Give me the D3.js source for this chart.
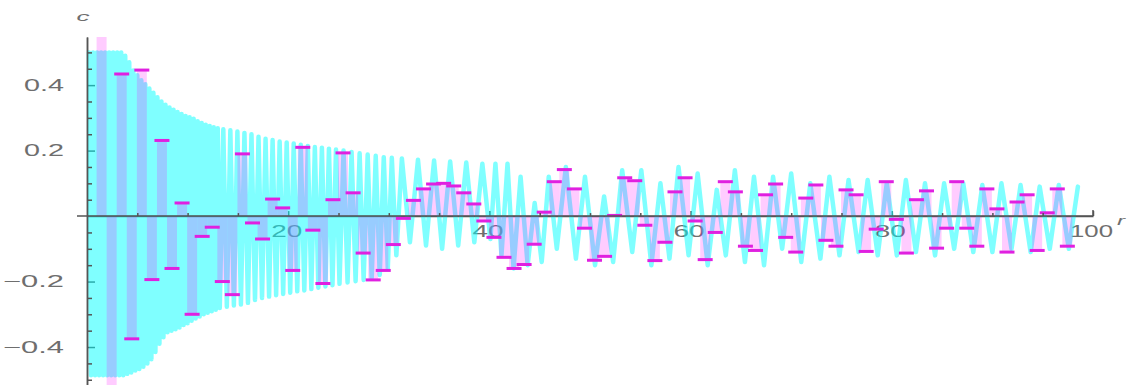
<!DOCTYPE html>
<html>
<head>
<meta charset="utf-8">
<script src="https://cdn.jsdelivr.net/npm/d3@7"></script>
<style>
  html, body { margin: 0; padding: 0; background: #fff; }
  svg { display: block; }
</style>
</head>
<body>
<svg id="chart" width="1127" height="385"></svg>
<script>
// ---- data -------------------------------------------------------------
const xTickValues = [20, 40, 60, 80, 100];
const xTickLabels = ["20", "40", "60", "80", "100"];
const yTickValues = [-0.4, -0.2, 0.2, 0.4];
const yTickLabels = ["\u22120.4", "\u22120.2", "0.2", "0.4"];

// discrete samples c(n), n = 1 … 97
const sampleIndex = d3.range(1, 98);
const sampleC = [
  0.80, -0.80, 0.434, -0.375, 0.446, -0.194, 0.231, -0.16, 0.04, -0.30,
  -0.062, -0.034, -0.20, -0.24, 0.19, -0.021, -0.07, 0.052, 0.025, -0.166,
  0.21, -0.043, -0.206, 0.05, 0.193, 0.071, -0.113, -0.195, -0.166, -0.087,
  -0.007, 0.048, 0.083, 0.098, 0.10, 0.092, 0.071, 0.037, -0.015, -0.065,
  -0.126, -0.16, -0.148, -0.086, 0.012, 0.105, 0.142, 0.083, -0.037, -0.135,
  -0.123, 0.002, 0.117, 0.108, -0.028, -0.136, -0.08, 0.074, 0.117, -0.015,
  -0.133, -0.05, 0.105, 0.074, -0.092, -0.105, 0.065, 0.098, -0.065, -0.11,
  0.055, 0.095, -0.074, -0.092, 0.08, 0.065, -0.108, -0.04, 0.105, -0.01,
  -0.113, 0.05, 0.077, -0.098, -0.037, 0.105, -0.037, -0.092, 0.083, 0.022,
  -0.11, 0.043, 0.065, -0.105, 0.01, 0.083, -0.092
];

// continuous curve c(r), vertices [r, c]
const curvePoints = [
  [0.2,0.5],[0.4,-0.486],[0.6,0.5],[0.8,-0.486],[1.0,0.5],[1.2,-0.486],[1.4,0.5],[1.6,-0.486],
  [1.8,0.5],[2.0,-0.486],[2.2,0.5],[2.4,-0.486],[2.6,0.5],[2.8,-0.486],[3.0,0.5],[3.2,-0.486],
  [3.4,0.5],[3.6,-0.486],[3.8,0.49],[4.0,-0.482],[4.2,0.47],[4.4,-0.478],[4.6,0.445],[4.8,-0.472],
  [5.0,0.43],[5.2,-0.467],[5.4,0.415],[5.6,-0.46],[5.8,0.403],[6.0,-0.45],[6.2,0.39],[6.4,-0.437],
  [6.6,0.377],[6.8,-0.415],[7.0,0.363],[7.2,-0.39],[7.4,0.35],[7.6,-0.37],[7.8,0.34],[8.0,-0.355],
  [8.2,0.332],[8.4,-0.35],[8.6,0.325],[8.8,-0.346],[9.0,0.318],[9.2,-0.34],[9.4,0.312],[9.6,-0.333],
  [9.8,0.306],[10.0,-0.327],[10.2,0.302],[10.4,-0.32],[10.6,0.297],[10.8,-0.313],[11.0,0.29],[11.2,-0.307],
  [11.4,0.284],[11.6,-0.3],[11.8,0.279],[12.0,-0.295],[12.2,0.275],[12.4,-0.291],[12.6,0.271],[12.8,-0.286],
  [13.0,0.268],[13.2,-0.281],
  [13.55,0.265],[13.9,-0.277],[14.25,0.262],[14.6,-0.273],[14.95,0.258],[15.3,-0.27],[15.65,0.254],[16.0,-0.265],
  [16.35,0.25],[16.7,-0.256],[17.05,0.242],[17.4,-0.25],[17.75,0.236],[18.1,-0.246],[18.45,0.232],[18.8,-0.242],
  [19.15,0.228],[19.5,-0.238],[19.85,0.225],[20.2,-0.234],[20.55,0.222],[20.9,-0.23],[21.25,0.218],[21.6,-0.227],
  [21.95,0.214],[22.3,-0.223],[22.65,0.211],[23.0,-0.219],[23.35,0.209],[23.7,-0.215],[24.05,0.206],[24.4,-0.211],
  [24.75,0.203],[25.1,-0.207],[25.5,0.2],[25.9,-0.203],[26.3,0.196],[26.7,-0.199],[27.1,0.192],[27.5,-0.195],
  [27.9,0.188],[28.3,-0.19],[28.7,0.184],[29.1,-0.18],[29.5,0.18],[29.9,-0.16],[30.3,0.178],[30.75,-0.12],
  [31.3,0.176],[32.1,-0.08],[32.9,0.172],[33.7,-0.09],[34.5,0.17],[35.3,-0.1],[36.1,0.167],[36.9,-0.09],
  [37.7,0.164],[38.5,-0.08],[39.3,0.16],[40.1,-0.07],[40.6,0.16],
  [41.2,-0.12],[41.8,0.16],[42.4,-0.16],[43.1,0.12],[43.8,-0.15],[44.5,0.04],[45.2,-0.14],[45.9,0.12],
  [46.7,-0.1],[47.6,0.15],[48.6,-0.13],[49.5,0.12],[50.5,-0.15],[51.4,0.06],[52.3,-0.14],[53.2,0.14],
  [54.2,-0.11],[55.1,0.14],[56.1,-0.15],[57.0,0.1],[57.9,-0.13],[58.8,0.15],[59.8,-0.12],[60.7,0.13],
  [61.7,-0.15],[62.6,0.08],[63.5,-0.12],[64.4,0.14],[65.4,-0.14],[66.3,0.12],[67.3,-0.15],[68.2,0.12],
  [69.1,-0.1],[70.0,0.13],[71.0,-0.14],[71.9,0.1],[72.9,-0.13],[73.8,0.12],[74.8,-0.12],[75.7,0.11],
  [76.7,-0.11],[77.6,0.11],[78.6,-0.12],[79.5,0.1],[80.5,-0.12],[81.4,0.11],[82.4,-0.11],[83.3,0.1],
  [84.3,-0.12],[85.2,0.1],[86.2,-0.1],[87.1,0.1],[88.1,-0.11],[89.0,0.095],[90.0,-0.11],[90.9,0.1],
  [91.9,-0.1],[92.8,0.095],[93.8,-0.11],[94.7,0.09],[95.7,-0.1],[96.6,0.095],[97.6,-0.1],[98.5,0.09]
];

// ---- layout -----------------------------------------------------------
const svg = d3.select("#chart");
const x = d3.scaleLinear().domain([0, 100]).range([87, 1093]);
const y = d3.scaleLinear().domain([-0.516, 0.547]).range([385, 37]);
const sampleShift = 0.45;     // samples sit mid-step
const barHalf = 5, capHalf = 7.5;

const axisColor = "#555";
const labelColor = "#6e6e6e";
const font = "'Liberation Sans', Arial, sans-serif";

svg.append("rect").attr("width", 1127).attr("height", 385).attr("fill", "#fff");

svg.append("defs").append("clipPath").attr("id", "plotClip")
  .append("rect").attr("x", 80).attr("y", y.range()[1])
  .attr("width", 1040).attr("height", y.range()[0] - y.range()[1]);

// ---- axes (drawn first so that the marks sit over the labels) ---------
const xAxis = d3.axisBottom(x)
  .tickValues(xTickValues)
  .tickFormat((d, i) => xTickLabels[i])
  .tickSizeInner(-5).tickSizeOuter(0).tickPadding(9);
const xMinor = d3.axisBottom(x)
  .tickValues(d3.range(5, 100, 5).filter(v => v % 20 !== 0))
  .tickFormat("").tickSizeInner(-3).tickSizeOuter(0);

const yAxis = d3.axisLeft(y)
  .tickValues(yTickValues)
  .tickFormat((d, i) => yTickLabels[i])
  .tickSizeInner(-8).tickSizeOuter(0).tickPadding(23);
const yMinor = d3.axisLeft(y)
  .tickValues([-0.5,-0.45,-0.35,-0.3,-0.25,-0.15,-0.1,-0.05,0.05,0.1,0.15,0.25,0.3,0.35,0.45,0.5])
  .tickFormat("").tickSizeInner(-5).tickSizeOuter(0);

const gLabels = svg.append("g");

function styleAxis(g) {
  g.select(".domain").attr("stroke", axisColor).attr("stroke-width", 1.5);
  g.selectAll(".tick line").attr("stroke", axisColor).attr("stroke-width", 1.5);
  g.selectAll(".tick text")
    .attr("fill", labelColor)
    .attr("font-family", font)
    .attr("font-size", 16.5)
    .attr("lengthAdjust", "spacingAndGlyphs");
}

const gx = gLabels.append("g").attr("transform", `translate(0,${y(0)})`).call(xAxis).call(styleAxis);
gx.selectAll(".tick text")
  .attr("textLength", (d, i) => xTickLabels[i].length === 3 ? 43 : 31)
  .attr("dx", -2);

const gy = gLabels.append("g").attr("transform", `translate(${x(0)},0)`).call(yAxis).call(styleAxis);
gy.selectAll(".tick text")
  .attr("textLength", (d, i) => yTickLabels[i].length === 4 ? 61 : 40);

// axis titles
gLabels.append("text").text("c")
  .attr("x", 83).attr("y", 21).attr("text-anchor", "middle")
  .attr("font-family", font).attr("font-style", "italic").attr("font-size", 13)
  .attr("fill", labelColor)
  .attr("textLength", 13).attr("lengthAdjust", "spacingAndGlyphs");
gLabels.append("text").text("r")
  .attr("x", 1117).attr("y", 225)
  .attr("font-family", font).attr("font-style", "italic").attr("font-size", 13)
  .attr("fill", labelColor)
  .attr("textLength", 8).attr("lengthAdjust", "spacingAndGlyphs");

// ---- marks ------------------------------------------------------------
const plot = svg.append("g").attr("clip-path", "url(#plotClip)");

// continuous curve
const line = d3.line().x(d => x(d[0])).y(d => y(d[1]));
plot.append("path")
  .datum(curvePoints)
  .attr("d", line)
  .attr("fill", "none")
  .attr("stroke", "#00ffff")
  .attr("stroke-opacity", 0.5)
  .attr("stroke-width", 4.5)
  .attr("stroke-linejoin", "round")
  .attr("stroke-linecap", "round");

const samples = sampleIndex.map((n, i) => ({ n, c: sampleC[i] }));

// filling from each sample to the axis
plot.append("g").selectAll("rect")
  .data(samples)
  .join("rect")
  .attr("x", d => x(d.n + sampleShift) - barHalf)
  .attr("width", barHalf * 2)
  .attr("y", d => y(Math.max(d.c, 0)))
  .attr("height", d => Math.abs(y(d.c) - y(0)))
  .attr("fill", "#ff00ff")
  .attr("fill-opacity", 0.2);

// axis lines over the fillings
svg.append("line")
  .attr("x1", 77).attr("x2", x(100)).attr("y1", y(0)).attr("y2", y(0))
  .attr("stroke", axisColor).attr("stroke-width", 1.5);
const gxm = svg.append("g").attr("transform", `translate(0,${y(0)})`).call(xMinor);
gxm.select(".domain").remove();
gxm.selectAll(".tick line").attr("stroke", axisColor).attr("stroke-width", 1.5);
const gym = svg.append("g").attr("transform", `translate(${x(0)},0)`).call(yMinor);
gym.select(".domain").attr("stroke", axisColor).attr("stroke-width", 1.5);
gym.selectAll(".tick line").attr("stroke", axisColor).attr("stroke-width", 1.5);
svg.append("line")
  .attr("x1", x(100)).attr("x2", x(100)).attr("y1", y(0) - 6).attr("y2", y(0))
  .attr("stroke", axisColor).attr("stroke-width", 1.5);

// sample markers
plot.append("g").selectAll("line")
  .data(samples)
  .join("line")
  .attr("x1", d => x(d.n + sampleShift) - capHalf)
  .attr("x2", d => x(d.n + sampleShift) + capHalf)
  .attr("y1", d => y(d.c))
  .attr("y2", d => y(d.c))
  .attr("stroke", "#e020e0")
  .attr("stroke-width", 3);
</script>
</body>
</html>
